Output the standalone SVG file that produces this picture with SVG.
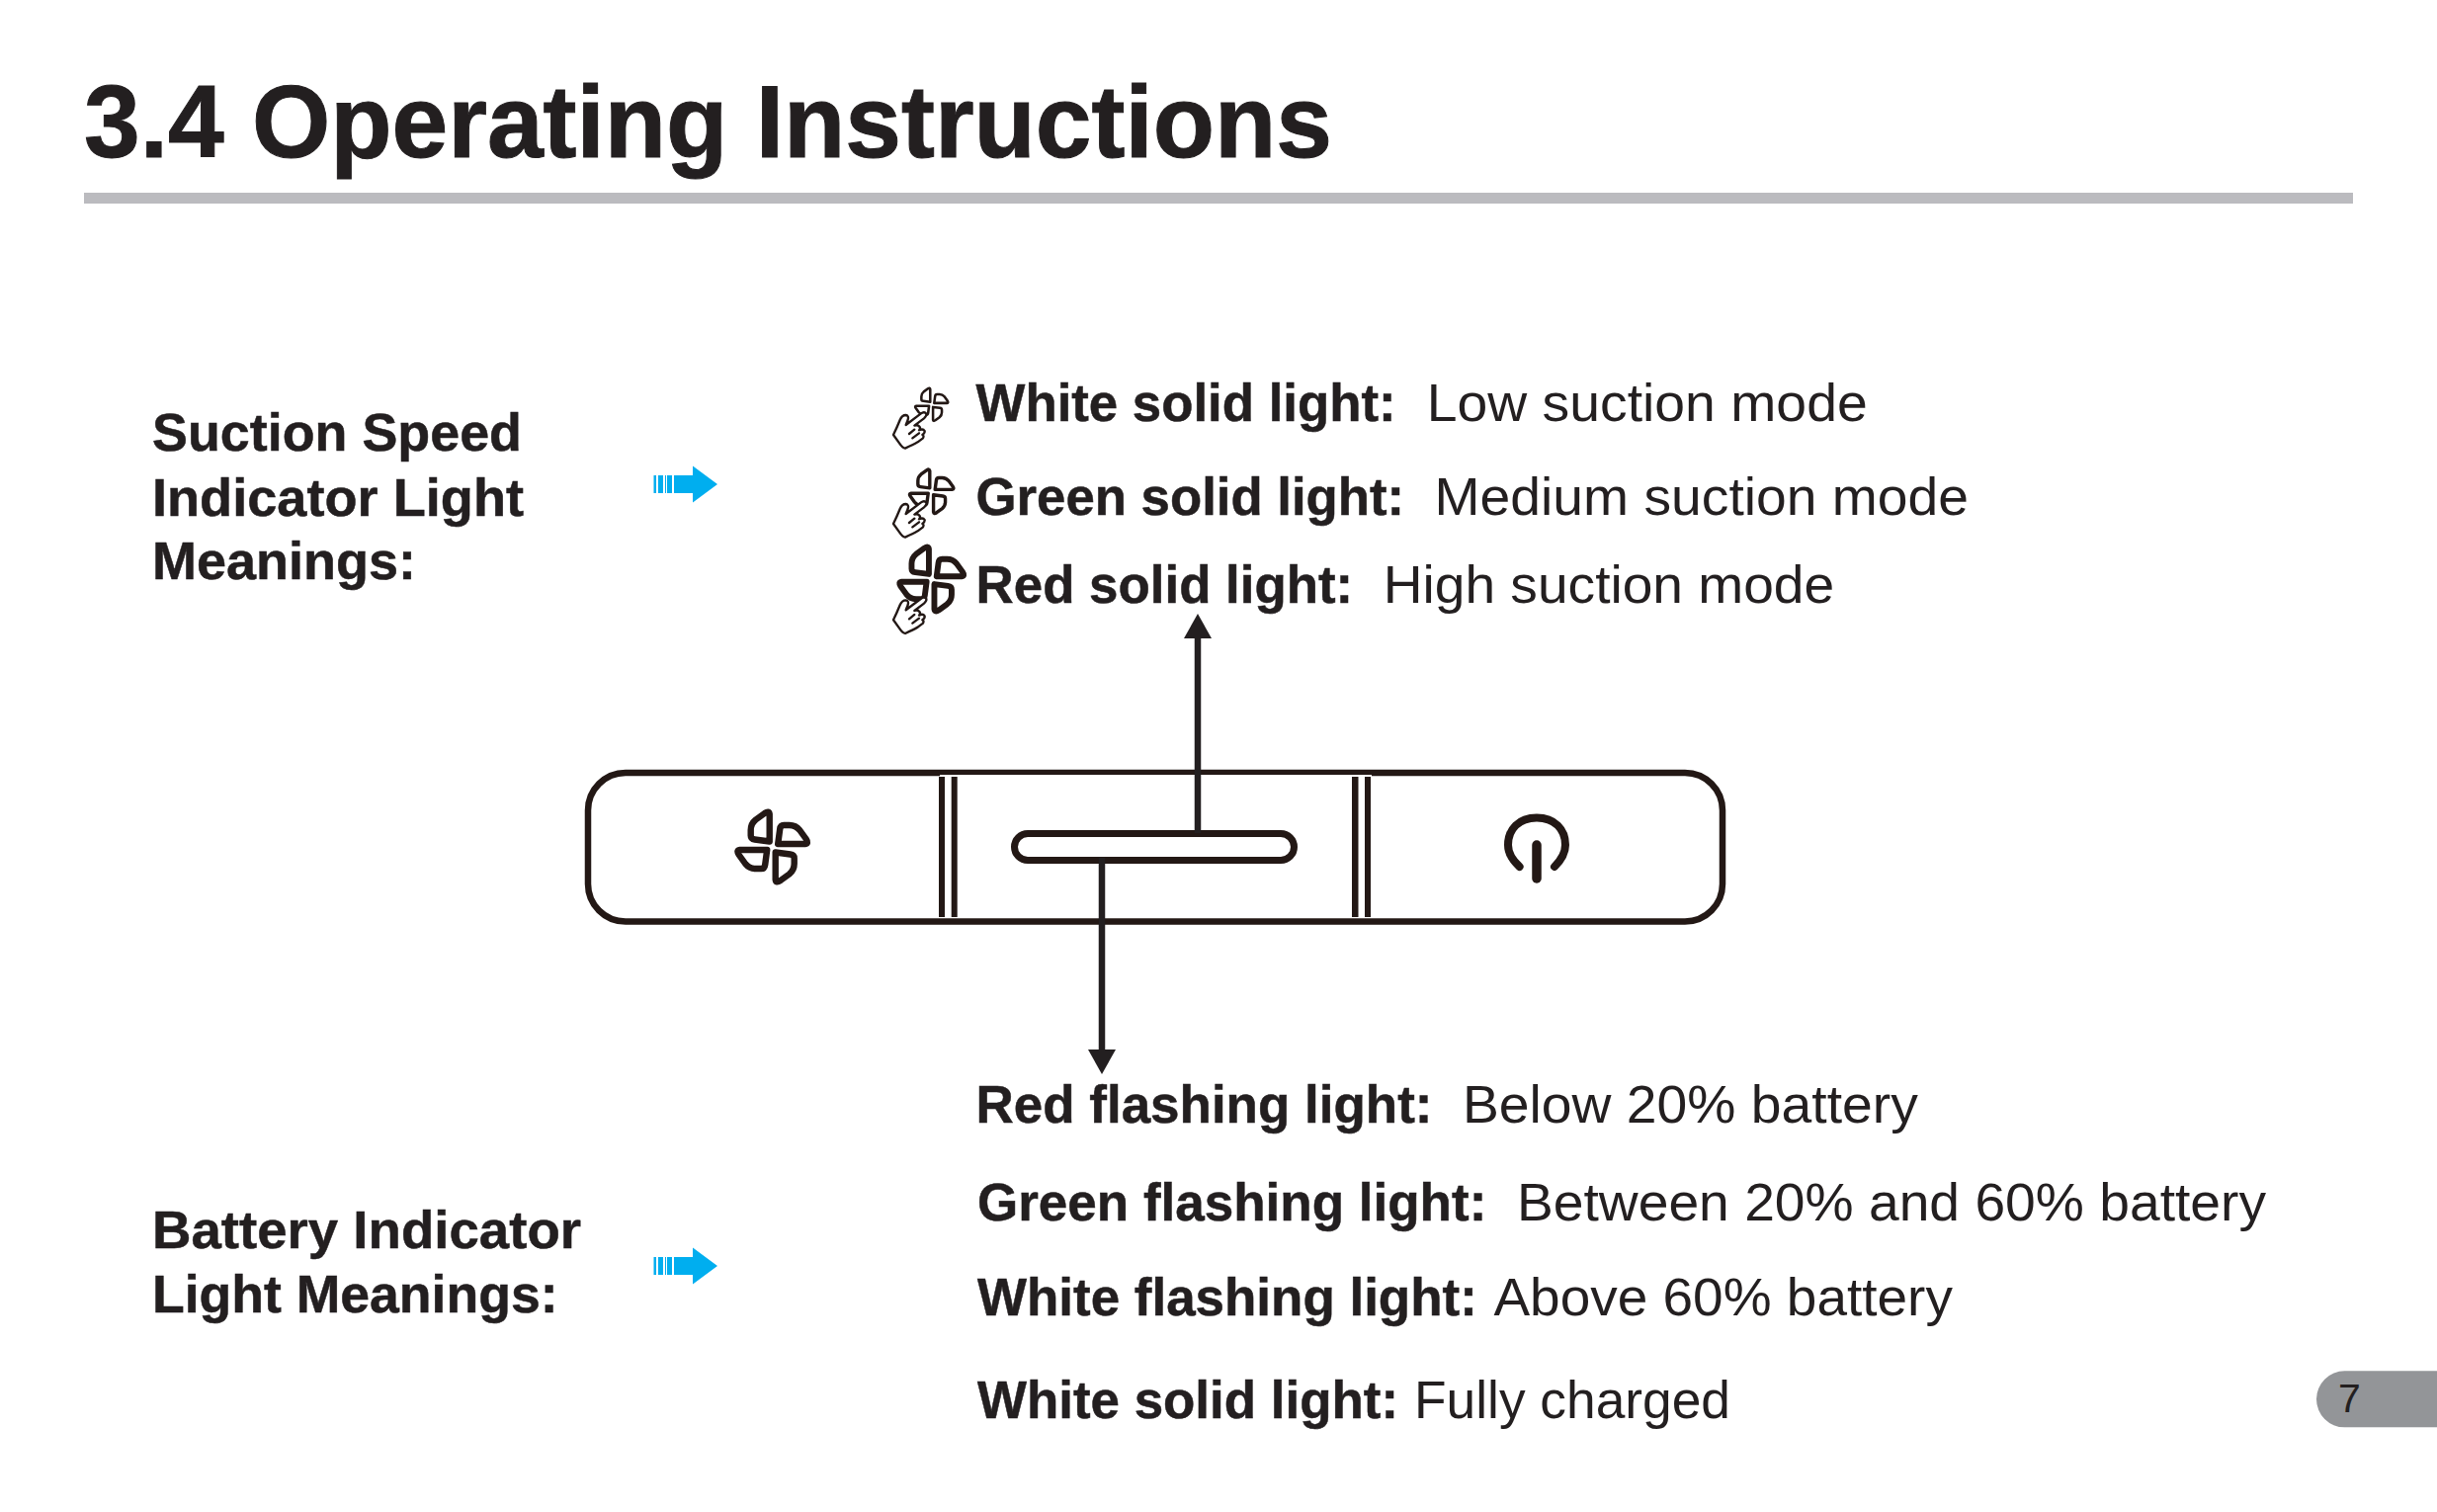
<svg xmlns="http://www.w3.org/2000/svg" xmlns:xlink="http://www.w3.org/1999/xlink" width="2466" height="1530" viewBox="0 0 2466 1530">
<style>
text{font-family:"Liberation Sans",Arial,sans-serif;fill:#231f20;font-size:53px}
.b{font-weight:700;stroke:#231f20;stroke-width:.5px}
.ink{fill:none;stroke:#231815;stroke-linejoin:round;stroke-linecap:round}
.hand{fill:#fff;stroke:#231815;stroke-width:7;stroke-linejoin:round;stroke-linecap:round}
.conn{fill:none;stroke:#231f20;stroke-width:6.5}
</style>
<defs>
<path id="blade" d="M-3,-5.5 L-3,-33 Q-3.5,-37 -8,-34 L-17,-27.5 Q-22,-23.5 -22,-17 L-22,-11.5 Q-22,-8 -18,-7.5 Z"/>
<g id="fan">
<use xlink:href="#blade" href="#blade"/>
<use xlink:href="#blade" href="#blade" transform="rotate(90)"/>
<use xlink:href="#blade" href="#blade" transform="rotate(180)"/>
<use xlink:href="#blade" href="#blade" transform="rotate(270)"/>
</g>
<path id="hand" d="M72,210 Q82,190 92,165 Q98,150 110,150 Q120,152 116,165 L110,180 L155,146 Q166,138 172,146 Q174,152 165,160 L136,182 Q146,178 152,186 Q155,192 150,196 Q162,190 167,198 Q168,205 160,210 Q166,212 162,220 L146,232 Q132,240 108,251 Q100,250 90,235 Z M120,207 L136,194 M130,220 L150,205"/>
<g id="bluearrow">
<path fill="#00aeef" d="M661.5,481 H664 V499 H661.5 Z M666,481 H671 V499 H666 Z M673,481 H674 V499 H673 Z M675,481 H680 V499 H675 Z M682,481 H701 V471.5 L726,490 L701,508.5 V499 H682 Z"/>
</g>
</defs>
<rect width="2466" height="1530" fill="#fff"/>

<g id="title">
<text class="b" x="85" y="159" style="font-size:104px;stroke-width:1px" textLength="1263" lengthAdjust="spacingAndGlyphs">3.4 Operating Instructions</text>
<rect x="85" y="195" width="2296" height="11" fill="#bbbbbf"/>
</g>

<g id="suction-label">
<text class="b" x="154" y="456" textLength="374" lengthAdjust="spacingAndGlyphs">Suction Speed</text>
<text class="b" x="154" y="522" textLength="376" lengthAdjust="spacingAndGlyphs">Indicator Light</text>
<text class="b" x="154" y="586" textLength="267" lengthAdjust="spacingAndGlyphs">Meanings:</text>
<use xlink:href="#bluearrow" href="#bluearrow"/>
</g>

<g id="battery-label">
<text class="b" x="154" y="1263" textLength="434" lengthAdjust="spacingAndGlyphs">Battery Indicator</text>
<text class="b" x="154" y="1327.5" textLength="410.5" lengthAdjust="spacingAndGlyphs">Light Meanings:</text>
<use xlink:href="#bluearrow" href="#bluearrow" transform="translate(0,791)"/>
</g>

<g id="icon-low">
<use xlink:href="#fan" href="#fan" class="ink" transform="translate(942.7,409.3) scale(.47)" style="stroke-width:5.4"/>
<use xlink:href="#hand" href="#hand" class="hand" transform="translate(880,370) scale(.3333)"/>
</g>
<g id="icon-medium">
<use xlink:href="#fan" href="#fan" class="ink" transform="translate(942.7,497.3) scale(.63)" style="stroke-width:5.4"/>
<use xlink:href="#hand" href="#hand" class="hand" transform="translate(880,460) scale(.3333)"/>
</g>
<g id="icon-high">
<use xlink:href="#fan" href="#fan" class="ink" transform="translate(942.7,586) scale(.92)" style="stroke-width:6.4"/>
<use xlink:href="#hand" href="#hand" class="hand" transform="translate(880,557.3) scale(.3333)"/>
</g>

<g id="suction-lines">
<text class="b" x="987.6" y="426" textLength="425" lengthAdjust="spacingAndGlyphs">White solid light:</text>
<text x="1443.7" y="426" textLength="446" lengthAdjust="spacingAndGlyphs">Low suction mode</text>
<text class="b" x="987.6" y="520.5" textLength="433.5" lengthAdjust="spacingAndGlyphs">Green solid light:</text>
<text x="1451.6" y="520.5" textLength="540.4" lengthAdjust="spacingAndGlyphs">Medium suction mode</text>
<text class="b" x="987.6" y="610" textLength="381.6" lengthAdjust="spacingAndGlyphs">Red solid light:</text>
<text x="1399.7" y="610" textLength="456.5" lengthAdjust="spacingAndGlyphs">High suction mode</text>
</g>

<g id="panel">
<rect x="595" y="782" width="1148" height="150.5" rx="38" ry="38" fill="none" stroke="#231815" stroke-width="6.5"/>
<rect x="951" y="784" width="437" height="145" fill="#fff"/>
<path fill="#231815" d="M950,786H956V928H950Z M962.7,786H968.7V928H962.7Z M1368,786H1374.5V928H1368Z M1381,786H1387V928H1381Z"/>
<rect x="1026.5" y="843.5" width="283" height="27" rx="13.5" fill="none" stroke="#231815" stroke-width="7"/>
<use xlink:href="#fan" href="#fan" class="ink" transform="translate(781.7,857)" style="stroke-width:6.4"/>
<path class="ink" style="stroke-width:8" d="M1537.6,877 C1530,870 1526,864 1526,855 C1526,839 1537,827.5 1555,827.5 C1573,827.5 1584,839 1584,855 C1584,864 1580,870 1573,877"/>
<path class="ink" style="stroke-width:9.5" d="M1555,855 V889"/>
</g>

<g id="connectors">
<path class="conn" d="M1212,843 V644"/>
<path fill="#231f20" d="M1212,621 L1226,646 H1198 Z"/>
<path class="conn" d="M1115,868 V1064"/>
<path fill="#231f20" d="M1115,1087 L1101,1062 H1129 Z"/>
</g>

<g id="battery-lines">
<text class="b" x="987.6" y="1135.5" textLength="461.8" lengthAdjust="spacingAndGlyphs">Red flashing light:</text>
<text x="1480" y="1135.5" textLength="460.8" lengthAdjust="spacingAndGlyphs">Below 20% battery</text>
<text class="b" x="989" y="1234.5" textLength="515.3" lengthAdjust="spacingAndGlyphs">Green flashing light:</text>
<text x="1535" y="1234.5" textLength="758" lengthAdjust="spacingAndGlyphs">Between 20% and 60% battery</text>
<text class="b" x="989" y="1330.5" textLength="505.8" lengthAdjust="spacingAndGlyphs">White flashing light:</text>
<text x="1511.4" y="1330.5" textLength="464.5" lengthAdjust="spacingAndGlyphs">Above 60% battery</text>
<text class="b" x="989" y="1434.8" textLength="426" lengthAdjust="spacingAndGlyphs">White solid light:</text>
<text x="1431" y="1434.8" textLength="320" lengthAdjust="spacingAndGlyphs">Fully charged</text>
</g>

<g id="page-tab">
<path fill="#939598" d="M2466,1387.3 H2372.5 A28.5,28.5 0 0 0 2372.5,1444.3 H2466 Z"/>
<text x="2366" y="1429" style="font-size:41px">7</text>
</g>
</svg>
